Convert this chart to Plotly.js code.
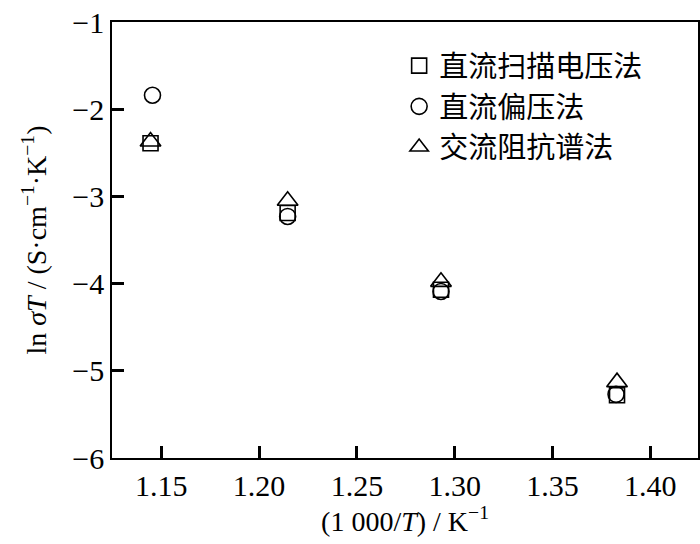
<!DOCTYPE html>
<html><head><meta charset="utf-8">
<script src="https://cdn.plot.ly/plotly-3.0.1.min.js"></script>
<style>body{margin:0;background:#fff}#g{width:700px;height:544px}</style>
</head><body><div id="g"></div>
<script>
const names = ["直流扫描电压法", "直流偏压法", "交流阻抗谱法"];
const xSquare = [1.1445, 1.2146, 1.2930, 1.3830];
const ySquare = [-2.39, -3.19, -4.07, -5.28];
const xCircle = [1.1455, 1.2146, 1.2930, 1.3825];
const yCircle = [-1.84, -3.23, -4.09, -5.27];
const xTriangle = [1.1445, 1.2146, 1.2930, 1.3830];
const yTriangle = [-2.37, -3.05, -3.98, -5.13];
const xTicks = [1.15, 1.20, 1.25, 1.30, 1.35, 1.40];
const xTickText = ["1.15", "1.20", "1.25", "1.30", "1.35", "1.40"];
const yTicks = [-6, -5, -4, -3, -2, -1];
const yTickText = ["−6", "−5", "−4", "−3", "−2", "−1"];

const font = "Liberation Serif, Times New Roman, Noto Sans CJK SC, serif";
const mk = (sym, size) => ({symbol: sym, size: size, color: "#000", line: {color: "#000", width: 1.6}});
const data = [
  {x: xSquare, y: ySquare, name: names[0], mode: "markers", type: "scatter", marker: mk("square-open", 15)},
  {x: xCircle, y: yCircle, name: names[1], mode: "markers", type: "scatter", marker: mk("circle-open", 16)},
  {x: xTriangle, y: yTriangle, name: names[2], mode: "markers", type: "scatter", marker: mk("triangle-up-open", 18)}
];
function axis(extra) {
  return Object.assign({
    showgrid: false, zeroline: false, showline: true, linecolor: "#000", linewidth: 1.5,
    mirror: true, ticks: "inside", ticklen: 12, tickwidth: 3, tickcolor: "#000",
    tickfont: {family: font, size: 30, color: "#000"}
  }, extra);
}
const layout = {
  width: 700, height: 544,
  margin: {l: 112, r: 2, t: 22, b: 86},
  paper_bgcolor: "#fff", plot_bgcolor: "#fff",
  font: {family: font, color: "#000"},
  showlegend: true,
  legend: {x: 0.49, y: 0.958, xanchor: "left", yanchor: "top", bgcolor: "rgba(0,0,0,0)",
    font: {family: "Liberation Serif, Noto Sans CJK SC, serif", size: 29, color: "#000"}, tracegroupgap: 0, itemsizing: "trace"},
  xaxis: axis({
    range: [1.1248, 1.4244], tickmode: "array", tickvals: xTicks, ticktext: xTickText,
    title: {text: "(1 000/<i>T</i>) / K<sup>−1</sup>", font: {family: font, size: 28, color: "#000"}, standoff: 8}
  }),
  yaxis: axis({
    range: [-6, -1], tickmode: "array", tickvals: yTicks, ticktext: yTickText,
    title: {text: "ln <i>σT</i> / (S·cm<sup>−1</sup>·K<sup>−1</sup>)", font: {family: font, size: 28, color: "#000"}, standoff: 18}
  })
};
Plotly.newPlot("g", data, layout, {displayModeBar: false});
</script></body></html>
